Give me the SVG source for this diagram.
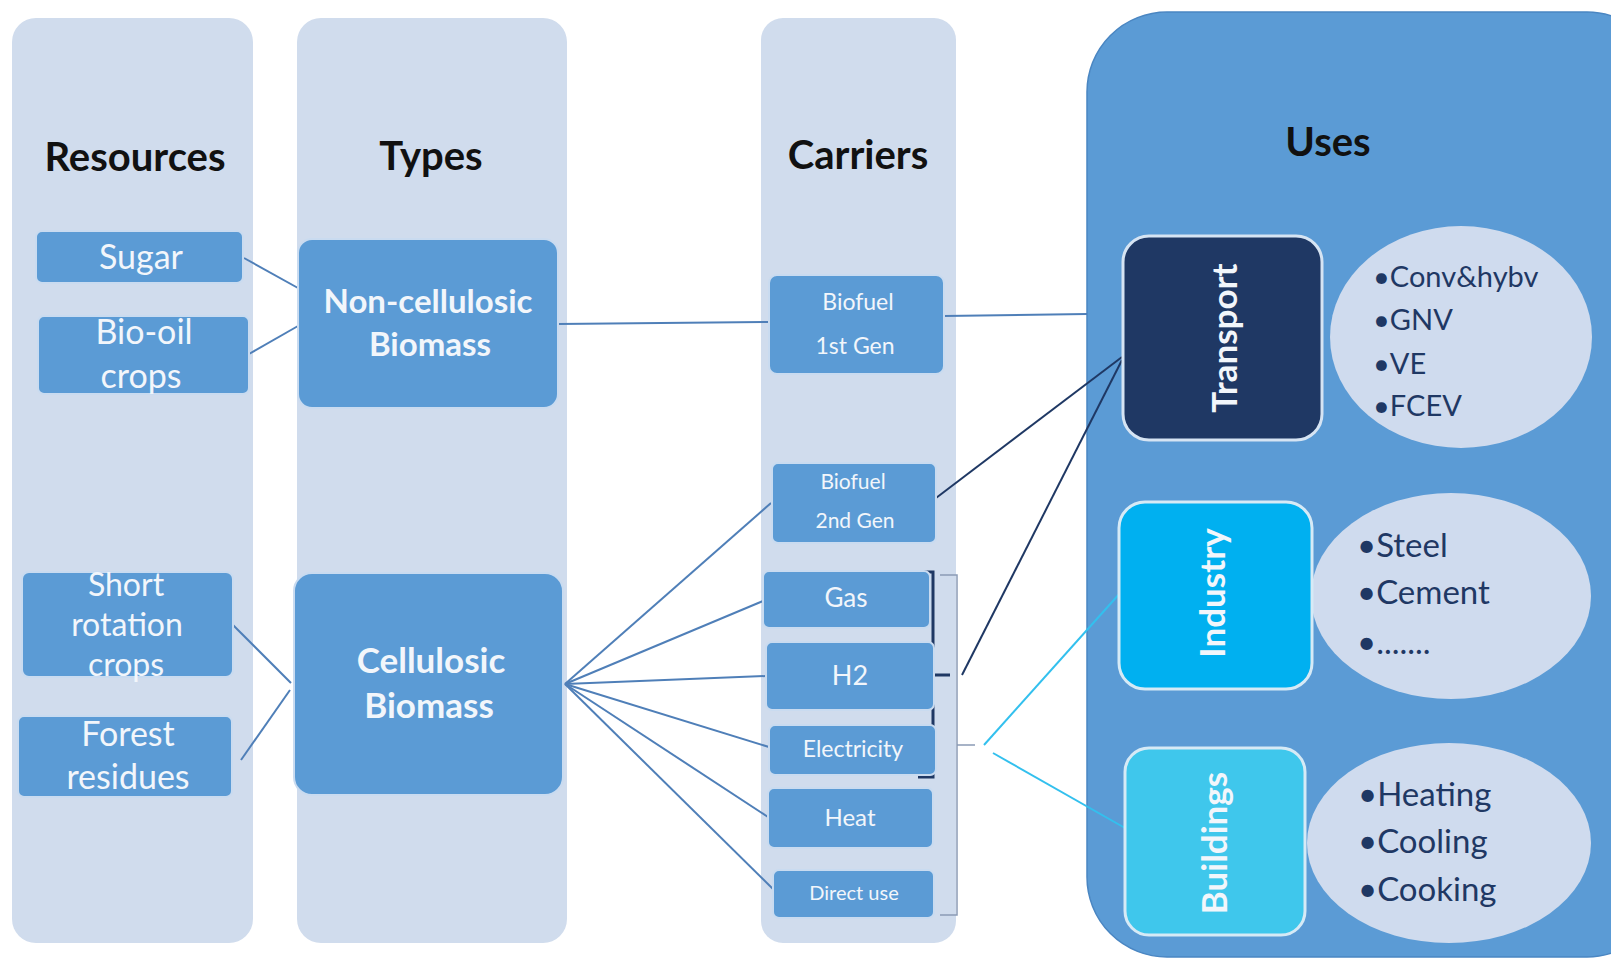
<svg xmlns="http://www.w3.org/2000/svg" width="1611" height="959" viewBox="0 0 1611 959">
<style>
.col{fill:#d0dced}
.box{fill:#5b9bd5;stroke:#c9dbf0;stroke-width:2}
.hdr{font-family:Lato,"Open Sans",sans-serif;font-weight:bold;font-size:40px;fill:#111;text-anchor:middle}
.t{font-family:Lato,"Open Sans",sans-serif;fill:#f2f6fb;text-anchor:middle}
.b{font-weight:bold}
.lst{font-family:Lato,"Open Sans",sans-serif;fill:#1f3864}
.ln{stroke:#4f7fb8;stroke-width:2;fill:none}
.nv{stroke:#1f3864;stroke-width:2;fill:none}
.cy{stroke:#33c0ee;stroke-width:2;fill:none}
.ell{fill:#cfdbee}
</style>
<rect width="1611" height="959" fill="#ffffff"/>
<g id="columns">
<rect class="col" x="12" y="18" width="241" height="925" rx="24"/>
<rect class="col" x="297" y="18" width="270" height="925" rx="24"/>
<rect class="col" x="761" y="18" width="195" height="925" rx="22"/>
<rect x="1087" y="12" width="580" height="945" rx="80" fill="#5b9bd5" stroke="#4a86c2" stroke-width="1.5"/>
<text class="hdr" x="135" y="171">Resources</text>
<text class="hdr" x="431" y="170">Types</text>
<text class="hdr" x="858" y="169">Carriers</text>
<text class="hdr" x="1328" y="156">Uses</text>
</g>
<g id="connectors">
<line class="ln" x1="244" y1="258" x2="298" y2="288"/>
<line class="ln" x1="249" y1="354" x2="298" y2="326"/>
<line class="ln" x1="233" y1="625" x2="291" y2="683"/>
<line class="ln" x1="241" y1="760" x2="290" y2="690"/>
<line class="ln" x1="558" y1="324" x2="769" y2="322"/>
<line class="ln" x1="565" y1="684" x2="771" y2="503"/>
<line class="ln" x1="565" y1="684" x2="763" y2="601"/>
<line class="ln" x1="565" y1="684" x2="766" y2="676"/>
<line class="ln" x1="565" y1="684" x2="769" y2="747"/>
<line class="ln" x1="565" y1="684" x2="768" y2="817"/>
<line class="ln" x1="565" y1="684" x2="773" y2="889"/>
<line class="ln" x1="944" y1="316" x2="1087" y2="314"/>
<line class="nv" x1="936" y1="498" x2="1122" y2="357"/>
<line class="nv" x1="962" y1="675" x2="1122" y2="360"/>
<path d="M918 572 H933 V777 H918 M933 675 H950" stroke="#1f3864" stroke-width="3" fill="none"/>
<path d="M940 575 H957 V915 H940 M957 745 H975" stroke="#8a9bb5" stroke-width="1.5" fill="none"/>
<line class="cy" x1="984" y1="745" x2="1121" y2="592"/>
<line class="cy" x1="993" y1="753" x2="1125" y2="828"/>
</g>
<g id="sugar"><rect class="box" x="36" y="231" width="207" height="52" rx="6"/><text class="t" x="141" y="269" font-size="34">Sugar</text></g>
<g id="bio-oil"><rect class="box" x="38" y="316" width="211" height="78" rx="6"/><text class="t" x="144" y="344" font-size="34">Bio-oil</text><text class="t" x="141" y="388" font-size="34">crops</text></g>
<g id="short-rotation"><rect class="box" x="22" y="572" width="211" height="105" rx="7"/><text class="t" x="126" y="596" font-size="32">Short</text><text class="t" x="127" y="636" font-size="32">rotation</text><text class="t" x="126" y="676" font-size="32">crops</text></g>
<g id="forest"><rect class="box" x="18" y="716" width="214" height="81" rx="6"/><text class="t" x="128" y="746" font-size="34">Forest</text><text class="t" x="128" y="789" font-size="34">residues</text></g>
<g id="non-cellulosic"><rect class="box" x="298" y="239" width="260" height="169" rx="14"/><text class="t b" x="428" y="313" font-size="33">Non-cellulosic</text><text class="t b" x="430" y="356" font-size="33">Biomass</text></g>
<g id="cellulosic"><rect class="box" x="294" y="573" width="269" height="222" rx="18"/><text class="t b" x="431" y="673" font-size="35">Cellulosic</text><text class="t b" x="429" y="718" font-size="35">Biomass</text></g>
<g id="biofuel1"><rect class="box" x="769" y="275" width="175" height="99" rx="8"/><text class="t" x="858" y="310" font-size="23">Biofuel</text><text class="t" x="855" y="354" font-size="23">1st Gen</text></g>
<g id="biofuel2"><rect class="box" x="772" y="463" width="164" height="80" rx="6"/><text class="t" x="853" y="489" font-size="21">Biofuel</text><text class="t" x="855" y="528" font-size="21">2nd Gen</text></g>
<g id="gas"><rect class="box" x="763" y="571" width="167" height="57" rx="6"/><text class="t" x="846" y="607" font-size="26">Gas</text></g>
<g id="h2"><rect class="box" x="766" y="642" width="168" height="68" rx="6"/><text class="t" x="850" y="685" font-size="27">H2</text></g>
<g id="electricity"><rect class="box" x="769" y="725" width="167" height="50" rx="6"/><text class="t" x="853" y="757" font-size="23">Electricity</text></g>
<g id="heat"><rect class="box" x="768" y="788" width="165" height="60" rx="6"/><text class="t" x="850" y="826" font-size="24">Heat</text></g>
<g id="direct-use"><rect class="box" x="773" y="870" width="161" height="48" rx="6"/><text class="t" x="854" y="900" font-size="20">Direct use</text></g>
<g id="transport-list"><ellipse class="ell" cx="1461" cy="337" rx="131" ry="111"/><g class="lst" font-size="29"><text x="1373" y="287">•Conv&amp;hybv</text><text x="1373" y="330">•GNV</text><text x="1373" y="374">•VE</text><text x="1373" y="416">•FCEV</text></g></g>
<g id="transport"><rect x="1123" y="236" width="199" height="204" rx="26" fill="#1f3864" stroke="#d6e4f3" stroke-width="3"/><text class="t b" font-size="35" transform="translate(1237,338) rotate(-90)">Transport</text></g>
<g id="industry-list"><ellipse class="ell" cx="1451" cy="596" rx="140" ry="103"/><g class="lst" font-size="33"><text x="1357" y="557">•Steel</text><text x="1357" y="604">•Cement</text><text x="1357" y="654">•.......</text></g></g>
<g id="industry"><rect x="1119" y="502" width="193" height="187" rx="26" fill="#00b0f0" stroke="#d6eaf6" stroke-width="3"/><text class="t b" font-size="35" transform="translate(1225,593) rotate(-90)">Industry</text></g>
<g id="buildings-list"><ellipse class="ell" cx="1449" cy="843" rx="142" ry="100"/><g class="lst" font-size="33"><text x="1358" y="806">•Heating</text><text x="1358" y="853">•Cooling</text><text x="1358" y="901">•Cooking</text></g></g>
<g id="buildings"><rect x="1125" y="748" width="180" height="187" rx="24" fill="#3fc7ec" stroke="#d6eaf6" stroke-width="3"/><text class="t b" font-size="35" transform="translate(1227,843) rotate(-90)">Buildings</text></g>
</svg>
